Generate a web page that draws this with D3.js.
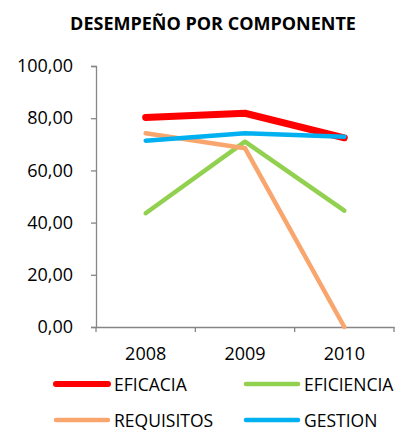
<!DOCTYPE html>
<html>
<head>
<meta charset="utf-8">
<script src="https://cdn.jsdelivr.net/npm/d3@7"></script>
<style>
  html, body { margin: 0; padding: 0; background: #fff; }
  svg { display: block; }
  text { font-family: "Open Sans", "Noto Sans", sans-serif; fill: #000; }
</style>
</head>
<body>
<svg id="chart" width="406" height="432"></svg>
<script>
// Performance by component, 2008–2010
const years = ["2008", "2009", "2010"];
const eficacia = [80.3, 81.9, 72.5];
const eficiencia = [43.6, 71.0, 44.6];
const requisitos = [74.2, 68.5, 0.0];
const gestion = [71.4, 74.2, 72.9];
const yTicks = [0, 20, 40, 60, 80, 100];

const series = [
  { name: "EFICACIA", values: eficacia, color: "#FF0000", width: 7 },
  { name: "EFICIENCIA", values: eficiencia, color: "#92D050", width: 4.5 },
  { name: "REQUISITOS", values: requisitos, color: "#F9A66E", width: 4.5 },
  { name: "GESTION", values: gestion, color: "#00B0F0", width: 4.5 }
];

const svg = d3.select("#chart");
const plotLeft = 96, plotRight = 394, plotTop = 66, plotBottom = 327;

const x = d3.scaleBand().domain(years).range([plotLeft, plotRight]);
const y = d3.scaleLinear().domain([0, 100]).range([plotBottom, plotTop]);

const fmt = v => d3.format(".2f")(v).replace(".", ",");

// Title
svg.append("text")
  .attr("x", 213).attr("y", 30)
  .attr("text-anchor", "middle")
  .style("font-weight", "bold")
  .style("font-size", "18px")
  .text("DESEMPEÑO POR COMPONENTE");

// Y axis
const yAxis = svg.append("g")
  .attr("transform", `translate(${plotLeft},0)`)
  .call(d3.axisLeft(y).tickValues(yTicks).tickFormat(fmt).tickSizeOuter(0).tickSize(5).tickPadding(18));

// X axis
const xAxis = svg.append("g")
  .attr("transform", `translate(0,${plotBottom})`)
  .call(d3.axisBottom(x).tickSizeOuter(0).tickSize(0).tickPadding(20));

[yAxis, xAxis].forEach(g => {
  g.select(".domain").attr("stroke", "#868686").attr("stroke-width", 1.3);
  g.selectAll(".tick line").attr("stroke", "#868686").attr("stroke-width", 1.3);
  g.selectAll(".tick text").style("font-size", "18px").style("font-family", "'Open Sans', sans-serif").attr("fill", "#000");
});

// Category separator ticks on the x axis
xAxis.selectAll(".sep")
  .data(years.concat(["end"]))
  .join("line")
  .attr("class", "sep")
  .attr("x1", (d, i) => plotLeft + i * x.step())
  .attr("x2", (d, i) => plotLeft + i * x.step())
  .attr("y1", 0).attr("y2", 5)
  .attr("stroke", "#868686").attr("stroke-width", 1.3);

// Lines
const line = d3.line()
  .x((d, i) => x(years[i]) + x.bandwidth() / 2)
  .y(d => y(d));

svg.append("g").selectAll("path")
  .data(series)
  .join("path")
  .attr("d", s => line(s.values))
  .attr("fill", "none")
  .attr("stroke", s => s.color)
  .attr("stroke-width", s => s.width)
  .attr("stroke-linecap", "round")
  .attr("stroke-linejoin", "round");

// Legend
const legendPos = [
  { lx: 56, ly: 384 },
  { lx: 246, ly: 384 },
  { lx: 56, ly: 420 },
  { lx: 246, ly: 420 }
];
const legend = svg.append("g").selectAll("g")
  .data(series)
  .join("g")
  .attr("transform", (s, i) => `translate(${legendPos[i].lx},${legendPos[i].ly})`);

legend.append("line")
  .attr("x1", 0).attr("x2", 52)
  .attr("y1", 0).attr("y2", 0)
  .attr("stroke", s => s.color)
  .attr("stroke-width", s => s.width === 7 ? 6 : 4.5)
  .attr("stroke-linecap", "round");

legend.append("text")
  .attr("x", 58).attr("y", 6.5)
  .style("font-size", "17.5px")
  .text(s => s.name);
</script>
</body>
</html>
